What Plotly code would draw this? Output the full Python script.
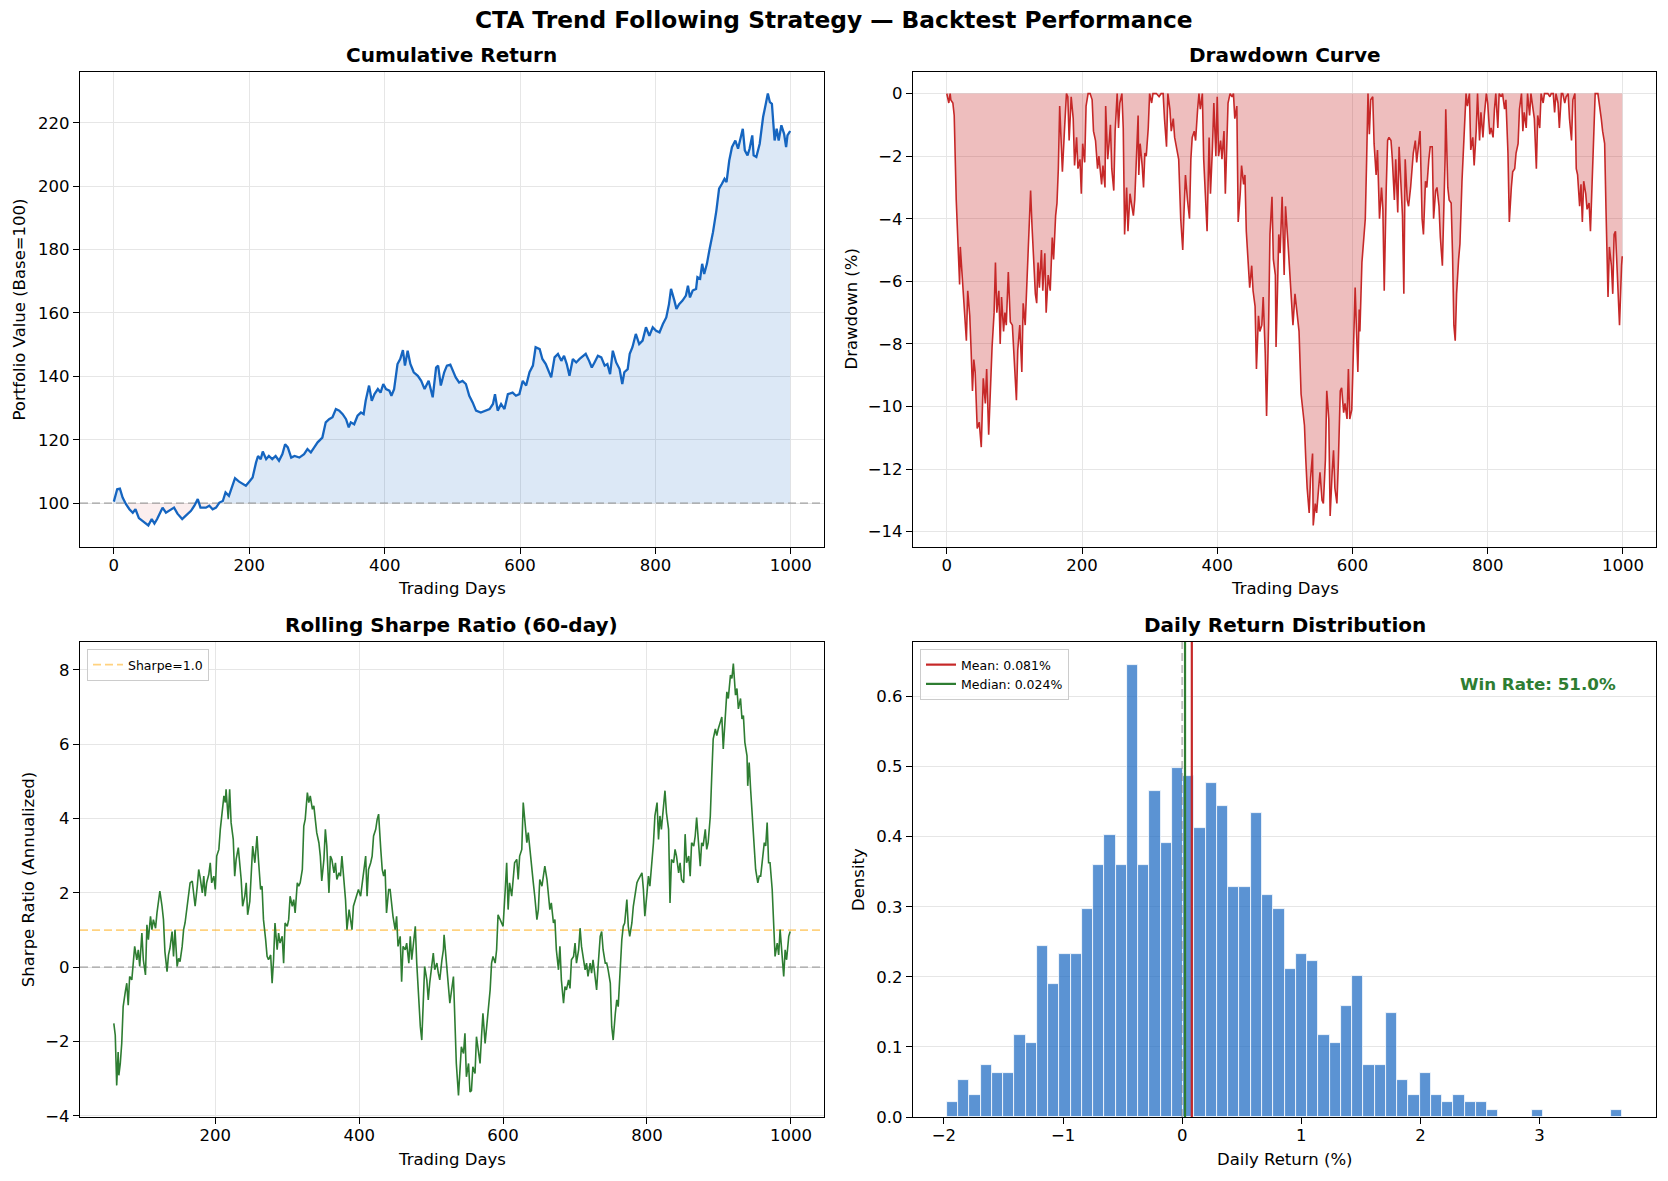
import numpy as np
import plotly.graph_objects as go

W, H = 1668, 1181

# ---------------- data ----------------
cum_days = [0, 5, 9, 13, 18, 23, 28, 32, 37, 42, 47, 51, 56, 60, 64, 72, 77, 82, 89, 94,
            101, 106, 114, 119, 124, 128, 136, 141, 146, 151, 156, 161, 165, 170, 175, 179,
            185, 190, 195, 200, 205, 210, 213, 217, 220, 225, 229, 234, 239, 244, 249, 253,
            257, 262, 267, 274, 281, 286, 291, 296, 301, 308, 313, 318, 323, 328, 333, 338,
            343, 347, 350, 355, 360, 365, 369, 372, 377, 381, 385, 390, 394, 398, 402, 407,
            410, 414, 419, 423, 427, 430, 434, 438, 443, 449, 454, 459, 465, 471, 476, 479,
            483, 488, 492, 497, 505, 510, 515, 520, 525, 530, 535, 542, 550, 555, 560, 563,
            567, 572, 577, 582, 589, 594, 599, 604, 609, 614, 619, 623, 629, 633, 638, 642,
            646, 651, 656, 661, 665, 669, 673, 678, 683, 688, 693, 697, 702, 706, 710, 715,
            720, 725, 729, 733, 737, 742, 747, 751, 754, 759, 762, 766, 771, 776, 781, 786,
            791, 796, 801, 806, 811, 816, 820, 823, 828, 831, 835, 840, 845, 848, 851, 855,
            860, 862, 866, 869, 872, 876, 880, 885, 890, 894, 898, 902, 905, 909, 913, 918,
            922, 925, 929, 932, 936, 939, 943, 945, 949, 954, 959, 963, 966, 969, 972, 976,
            979, 982, 986, 990, 993, 995, 999]
cum_value = [100.5, 104.4, 104.6, 101.8, 99.7, 98.1, 97.0, 98.1, 95.3, 94.4, 93.6, 93.0, 95.0,
             93.6, 95.0, 98.6, 97.0, 97.6, 98.6, 96.7, 95.0, 96.0, 97.6, 99.2, 101.3, 98.6,
             98.6, 99.2, 98.1, 98.6, 100.2, 100.7, 103.4, 102.3, 105.5, 107.9, 106.8, 106.2,
             105.5, 106.8, 108.1, 112.8, 114.9, 113.9, 116.3, 113.9, 114.9, 113.9, 114.9,
             113.4, 115.5, 118.6, 117.6, 114.4, 114.9, 114.4, 115.5, 117.1, 116.0, 117.6,
             119.2, 120.7, 125.5, 126.5, 127.1, 129.7, 129.2, 128.1, 126.5, 123.9, 125.5,
             124.9, 127.6, 128.6, 128.1, 132.3, 137.1, 132.3, 134.4, 136.0, 134.9, 137.6,
             136.0, 135.5, 133.9, 136.0, 143.9, 145.5, 148.3, 143.4, 148.1, 143.9, 141.3,
             140.2, 138.6, 136.0, 138.6, 133.4, 142.8, 143.4, 137.1, 141.3, 143.4, 143.7,
             139.7, 138.1, 138.6, 137.6, 133.9, 131.8, 129.2, 128.6, 129.2, 129.7, 131.3,
             134.4, 129.2, 131.3, 129.7, 134.4, 134.9, 133.9, 134.4, 138.6, 137.1, 141.3,
             143.4, 149.2, 148.6, 145.5, 143.9, 141.8, 139.7, 146.0, 147.1, 144.9, 146.5,
             143.9, 140.2, 145.5, 144.4, 145.5, 146.5, 147.1, 144.9, 142.8, 144.4, 146.5,
             146.0, 143.4, 143.9, 140.7, 148.1, 144.4, 142.3, 137.6, 141.3, 142.3, 147.1,
             149.2, 153.4, 150.2, 151.3, 155.5, 152.8, 155.5, 154.4, 153.9, 156.5, 158.6,
             162.8, 167.6, 163.9, 161.3, 162.8, 163.9, 165.5, 168.6, 164.9, 167.1, 167.6,
             171.3, 170.8, 175.5, 172.3, 175.5, 180.2, 185.5, 192.3, 199.2, 200.7, 202.3,
             201.3, 208.1, 212.3, 214.4, 211.8, 215.0, 218.1, 211.3, 209.7, 211.8, 216.0,
             209.7, 209.2, 213.4, 221.8, 226.0, 229.2, 226.5, 226.0, 214.4, 218.1, 214.4,
             219.2, 216.5, 212.3, 216.0, 217.4]

dd_days = [0, 3, 5, 6, 9, 11, 14, 16, 19, 20, 24, 26, 29, 31, 34, 36, 38, 40, 42, 45, 48, 51,
           54, 57, 59, 62, 65, 67, 70, 72, 74, 77, 79, 81, 84, 86, 88, 91, 94, 97, 100, 103,
           105, 108, 111, 113, 116, 119, 121, 124, 126, 128, 131, 133, 135, 137, 140, 142,
           145, 147, 150, 153, 156, 158, 161, 163, 165, 167, 169, 171, 174, 177, 179, 181,
           184, 187, 189, 192, 194, 197, 199, 201, 204, 206, 209, 212, 215, 217, 220, 223,
           225, 229, 231, 234, 235, 238, 240, 242, 244, 247, 249, 252, 254, 256, 259, 261,
           263, 266, 268, 271, 273, 276, 278, 280, 281, 283, 284, 286, 289, 291, 293, 295,
           298, 300, 303, 305, 310, 314, 317, 320, 322, 325, 327, 330, 332, 335, 337, 340,
           343, 346, 349, 351, 353, 356, 359, 361, 363, 366, 368, 371, 373, 375, 378, 380,
           383, 385, 388, 390, 393, 395, 398, 400, 402, 405, 407, 410, 412, 414, 416, 419,
           422, 424, 426, 429, 431, 434, 436, 439, 441, 443, 446, 448, 451, 453, 456, 458,
           461, 463, 466, 468, 471, 473, 476, 478, 481, 483, 486, 487, 489, 491, 493, 496,
           499, 501, 505, 509, 512, 515, 519, 521, 524, 526, 529, 531, 533, 536, 538, 541,
           542, 545, 547, 550, 552, 555, 557, 560, 562, 565, 567, 570, 572, 574, 577, 579,
           582, 584, 587, 589, 592, 594, 596, 599, 601, 604, 606, 608, 610, 611, 614, 616,
           619, 621, 623, 625, 627, 630, 632, 635, 637, 640, 643, 645, 647, 650, 652, 654,
           657, 659, 662, 664, 667, 669, 672, 674, 676, 678, 681, 683, 686, 688, 690, 693,
           695, 698, 700, 703, 705, 708, 710, 713, 715, 718, 720, 723, 725, 728, 730, 733,
           735, 737, 738, 741, 743, 746, 748, 750, 752, 754, 757, 759, 762, 764, 766, 768,
           770, 773, 775, 778, 780, 783, 785, 788, 790, 793, 795, 798, 800, 803, 805, 808,
           810, 812, 815, 817, 820, 822, 825, 827, 830, 832, 835, 837, 840, 842, 845, 847,
           850, 852, 854, 857, 859, 862, 864, 867, 869, 872, 874, 877, 879, 882, 884, 889,
           892, 894, 897, 899, 901, 904, 906, 909, 911, 914, 916, 919, 921, 924, 926, 929,
           931, 933, 936, 938, 940, 942, 945, 947, 950, 952, 954, 957, 959, 963, 966, 968,
           970, 973, 975, 978, 980, 983, 985, 987, 989, 991, 993, 995, 998, 999]
dd_pct = [0, -0.3, 0, -0.2, -0.3, -0.7, -3.4, -4.6, -6.1, -4.9, -6.3, -7.1, -7.9, -6.3, -7.1,
          -8.2, -9.5, -8.5, -8.9, -10.7, -10.5, -11.3, -9.1, -9.9, -8.8, -10.9, -9.1, -8.1,
          -7.0, -5.4, -7.0, -6.3, -8.0, -6.5, -7.6, -7.0, -7.4, -5.7, -7.3, -7.4, -8.6, -9.8,
          -8.2, -7.4, -8.9, -6.7, -7.4, -5.7, -4.5, -3.1, -4.2, -5.3, -6.4, -6.7, -5.4, -6.2,
          -5.0, -6.3, -5.1, -7.0, -5.8, -6.3, -4.6, -5.3, -3.9, -3.5, -2.4, -0.4, -1.6, -2.5,
          -1.2, 0, -0.1, -1.5, -0.1, -0.8, -2.3, -1.4, -2.4, -2.1, -3.2, -1.6, -2.2, -0.4, 0,
          0, -0.2, -1.2, -1.5, -2.4, -2.0, -2.9, -2.3, -3.0, -0.4, -2.1, -1.6, -1.0, -2.4,
          -3.1, -1.2, 0, -1.1, -0.3, 0, -1.1, -4.5, -3.0, -4.4, -3.2, -3.5, -3.9, -3.4, -2.4,
          -1.9, -0.7, -2.6, -1.6, -2.3, -3.0, -1.9, -2.0, -1.1, 0, -0.3, 0, 0, -0.1, 0, 0,
          -0.8, -1.7, 0, -0.5, -1.2, -0.8, -1.4, -1.7, -2.1, -4.0, -5.0, -3.7, -2.6, -3.4,
          -4.0, -2.1, -1.4, -1.2, -1.5, -0.5, 0, -0.5, 0, -2.1, -3.7, -4.4, -1.4, -3.2, -1.7,
          -0.3, -2.0, -0.1, -2.0, -1.5, -2.1, -1.2, -3.2, -1.3, -0.3, 0, -0.1, 0, -0.8, -0.4,
          -4.1, -3.2, -2.3, -2.9, -2.6, -4.4, -5.3, -6.2, -5.5, -6.3, -6.8, -8.8, -7.1, -7.6,
          -7.4, -6.5, -8.3, -10.3, -7.4, -4.5, -3.3, -5.3, -5.8, -8.1, -6.4, -4.5, -5.1, -3.3,
          -5.8, -3.6, -4.9, -6.2, -7.4, -6.4, -7.3, -7.6, -9.6, -10.0, -10.6, -11.7, -12.6,
          -13.4, -12.3, -11.5, -13.8, -13.1, -13.4, -12.6, -12.1, -13.0, -13.1, -11.7, -9.5,
          -10.4, -13.5, -12.1, -11.4, -12.6, -13.1, -11.9, -9.5, -9.4, -10.2, -9.9, -10.4,
          -8.8, -10.4, -10.1, -8.5, -6.2, -7.6, -8.9, -6.9, -7.6, -5.4, -4.7, -4.0, -2.1, 0,
          -1.3, -0.2, -0.1, -1.6, -2.6, -1.8, -4.0, -3.0, -3.7, -6.3, -3.0, -1.5, -1.4, -1.5,
          -2.1, -3.4, -2.1, -3.8, -1.7, -3.2, -3.9, -6.4, -2.1, -3.4, -3.6, -3.0, -2.5, -1.9,
          -1.5, -2.2, -1.6, -1.2, -4.0, -4.5, -2.8, -3.0, -2.1, -1.7, -1.7, -4.0, -3.1, -3.0,
          -3.6, -4.6, -5.5, -4.0, -2.1, -0.5, -3.0, -3.4, -3.5, -5.1, -7.4, -7.9, -6.4, -5.3,
          -4.8, -2.8, -1.9, -1.1, 0, -0.4, 0, -1.8, -1.4, -2.3, -1.2, 0, -1.5, -0.6, -1.4,
          -0.7, 0, -0.3, -1.3, -1.1, -1.4, -0.5, 0, -1.1, 0, -0.1, 0, -0.5, -0.2, -1.9, -4.1,
          -3.0, -2.5, -2.4, -1.9, -1.6, -0.5, 0, -1.2, -0.6, -1.1, 0, -0.7, 0, -0.4, -0.8,
          -2.4, -0.7, -1.1, 0, -0.3, 0, 0, -0.1, 0, 0, -0.6, 0, -0.3, -1.1, 0, 0, -0.3, -0.1,
          0, -0.8, -1.5, -0.2, 0, -2.4, -2.6, -3.6, -2.9, -4.1, -2.8, -3.2, -3.7, -3.5, -4.4,
          -3.0, -1.5, 0, 0, -0.4, -0.8, -1.2, -1.6, -3.7, -6.5, -4.9, -5.5, -6.4, -4.5, -4.4,
          -5.5, -6.6, -7.4, -5.5, -5.2]

sharpe_days = [59, 61, 63, 65, 66, 68, 70, 72, 75, 77, 79, 81, 84, 86, 88, 91, 93, 95, 98,
               100, 103, 105, 107, 110, 112, 114, 117, 119, 121, 123, 126, 128, 130, 133, 135,
               137, 140, 142, 144, 147, 149, 151, 154, 156, 158, 161, 163, 165, 168, 170, 172,
               175, 177, 179, 182, 184, 186, 188, 191, 193, 195, 198, 200, 202, 205, 207, 209,
               212, 214, 215, 218, 220, 222, 225, 227, 229, 232, 234, 236, 238, 241, 243, 245,
               248, 250, 252, 255, 257, 258, 260, 263, 265, 267, 270, 272, 274, 277, 279, 281,
               283, 286, 288, 290, 293, 295, 297, 300, 302, 304, 307, 309, 311, 314, 316, 318,
               321, 323, 325, 328, 330, 332, 335, 337, 339, 341, 344, 346, 348, 351, 353, 355,
               358, 360, 362, 365, 367, 369, 372, 374, 376, 379, 381, 383, 386, 388, 390, 392,
               395, 397, 399, 402, 404, 406, 409, 411, 413, 416, 418, 420, 423, 425, 427, 430,
               432, 434, 436, 438, 441, 443, 445, 447, 450, 452, 454, 457, 459, 461, 464, 466,
               469, 471, 473, 475, 478, 480, 482, 485, 487, 489, 491, 494, 496, 498, 501, 503,
               505, 508, 510, 512, 515, 517, 518, 521, 524, 526, 531, 533, 535, 538, 540, 542,
               545, 547, 549, 552, 554, 556, 558, 561, 563, 565, 568, 570, 572, 575, 577, 579,
               582, 584, 586, 589, 591, 593, 596, 598, 600, 603, 605, 607, 609, 612, 614, 616,
               619, 621, 623, 626, 628, 630, 633, 635, 637, 640, 642, 644, 647, 649, 651, 654,
               656, 658, 661, 663, 665, 667, 670, 672, 674, 677, 679, 681, 684, 686, 688, 691,
               693, 695, 698, 700, 702, 705, 707, 709, 712, 714, 716, 718, 721, 723, 725, 728,
               730, 732, 735, 737, 739, 742, 744, 746, 749, 751, 753, 756, 758, 760, 763, 765,
               767, 769, 772, 774, 776, 779, 781, 783, 786, 788, 790, 793, 795, 797, 800, 802,
               804, 807, 809, 811, 814, 816, 818, 820, 823, 825, 827, 830, 832, 834, 837, 839,
               841, 844, 846, 848, 851, 853, 855, 858, 860, 862, 865, 867, 869, 872, 874, 876,
               878, 881, 883, 885, 888, 890, 892, 895, 897, 899, 902, 904, 906, 909, 911, 913,
               916, 918, 920, 923, 925, 927, 930, 932, 934, 936, 939, 940, 942, 944, 947, 949,
               951, 954, 956, 958, 961, 963, 965, 967, 969, 971, 974, 976, 978, 981, 983, 985,
               987, 990, 992, 994, 997, 999]
sharpe_val = [-1.51, -1.83, -3.18, -2.28, -2.91, -2.59, -2.05, -1.06, -0.66, -0.43, -1.02,
              -0.25, -0.34, 0.11, 0.56, 0.20, 0.47, 0.02, 0.92, 0.20, -0.21, 1.14, 0.74, 1.37,
              1.01, 1.28, 1.05, 1.46, 1.82, 2.05, 1.64, 1.28, 0.42, -0.12, 0.33, 0.51, 0.96,
              0.29, 1.01, 0.02, 0.24, 0.15, 0.56, 1.01, 1.19, 1.73, 2.00, 2.27, 2.32, 2.00,
              1.64, 2.18, 2.63, 2.41, 2.00, 2.45, 1.91, 2.27, 2.50, 2.81, 2.27, 2.45, 2.09,
              2.99, 3.17, 3.71, 4.16, 4.61, 4.43, 4.79, 3.98, 4.79, 3.89, 3.44, 2.45, 2.90,
              3.22, 2.81, 2.36, 1.64, 1.91, 2.27, 1.41, 1.77, 2.63, 3.26, 2.81, 3.17, 3.53,
              2.90, 2.09, 2.18, 1.28, 0.74, 0.29, 0.20, 0.33, -0.43, 0.20, 1.19, 0.47, 0.92,
              0.65, 0.83, 0.11, 1.19, 1.10, 1.28, 1.91, 1.64, 1.82, 1.46, 2.27, 2.18, 2.27,
              2.63, 3.80, 3.98, 4.70, 4.43, 4.61, 4.25, 4.34, 3.98, 3.62, 3.35, 2.99, 2.32,
              2.90, 3.71, 3.26, 2.00, 2.99, 2.90, 2.54, 2.81, 2.36, 2.54, 2.45, 2.99, 2.27,
              1.82, 1.01, 1.55, 1.28, 1.01, 1.64, 1.82, 1.91, 2.09, 1.91, 2.27, 2.45, 2.99,
              1.91, 2.63, 2.81, 2.99, 3.53, 3.71, 3.98, 4.12, 3.17, 2.63, 2.45, 2.63, 1.46,
              2.09, 2.09, 1.64, 1.37, 1.01, 1.37, 0.56, 0.83, -0.39, 0.56, 0.47, 0.65, 0.11,
              0.83, 0.20, 0.56, 1.10, 0.11, -0.61, -1.60, -1.96, -0.88, 0.02, -0.34, -0.88,
              -0.43, 0.11, 0.38, -0.07, 0.11, -0.16, -0.34, 0.20, 0.47, 0.87, 0.11, -0.43,
              -0.97, -0.25, -1.51, -2.59, -3.45, -2.86, -2.14, -2.32, -1.78, -2.95, -2.59,
              -3.36, -3.32, -2.68, -2.86, -1.87, -2.23, -2.59, -1.87, -1.24, -2.05, -1.69,
              -1.33, -0.61, 0.11, 0.29, 0.11, 0.47, 1.41, 1.28, 1.19, 1.10, 2.09, 2.81, 1.55,
              2.27, 1.91, 2.27, 2.81, 2.90, 2.36, 2.99, 3.17, 4.43, 3.89, 3.35, 3.62, 3.17,
              2.63, 2.27, 1.91, 1.28, 1.55, 2.36, 2.18, 2.45, 2.72, 2.36, 1.82, 1.55, 1.73,
              1.19, 1.28, 0.47, -0.07, 0.56, -0.34, -0.97, -0.52, -0.61, -0.34, -0.57, 0.20,
              0.29, 0.65, 0.11, 0.47, 1.05, 0.56, 0.20, -0.07, 0.11, -0.25, 0.11, -0.16, 0.20,
              -0.34, -0.61, 0.02, 0.83, 0.96, 0.47, 0.11, 0.11, -0.07, -0.43, -1.60, -1.96,
              -1.24, -0.88, -1.06, 0.11, 0.74, 1.10, 1.19, 1.82, 1.10, 0.83, 1.19, 1.64, 1.91,
              2.27, 2.36, 2.45, 2.54, 2.09, 1.37, 2.00, 2.45, 2.18, 2.81, 3.35, 4.07, 4.43,
              3.44, 4.07, 3.71, 4.25, 4.75, 4.16, 3.71, 1.73, 2.90, 2.81, 3.17, 2.99, 2.54,
              2.81, 2.36, 2.27, 3.58, 2.81, 2.99, 2.45, 3.35, 3.26, 3.53, 4.03, 3.35, 2.72,
              3.35, 3.26, 3.71, 3.17, 3.35, 4.07, 5.15, 6.14, 6.41, 6.23, 6.41, 6.59, 6.73,
              5.87, 6.86, 7.41, 7.23, 7.86, 7.77, 8.17, 7.32, 7.50, 6.95, 7.23, 6.68, 6.77,
              6.05, 5.69, 4.88, 5.51, 4.79, 3.89, 3.26, 2.63, 2.27, 2.45, 2.45, 2.99, 3.35,
              3.26, 3.89, 2.81, 2.81, 2.09, 1.19, 0.29, 0.65, 0.33, 1.01, 0.47, -0.25, 0.47,
              0.20, 0.83, 0.96]

# daily-return histogram: counts per bin (60 equal bins between HIST_LO and HIST_HI, in %)
hist_counts = [2, 5, 3, 7, 6, 6, 11, 10, 23, 18, 22, 22, 28, 34, 38, 34, 61, 34, 44, 37,
               47, 46, 39, 45, 42, 31, 31, 41, 30, 28, 20, 22, 21, 11, 10, 15, 19, 7, 7, 14,
               5, 3, 6, 3, 2, 3, 2, 2, 1, 0, 0, 0, 1, 0, 0, 0, 0, 0, 0, 1]
HIST_LO, HIST_HI = -1.976, 3.694
MEAN_RET = 0.081
MEDIAN_RET = 0.024
WIN_RATE = 51.0
BASE_VALUE = 100
SHARPE_REF = 1.0

# ---------------- styling ----------------
BLUE = '#1565C0'
RED = '#C62828'
GREEN = '#2E7D32'
FONT = 'DejaVu Sans'
TICK_SIZE = 16.5


def px(x):
    return x / W


def py(y):
    return 1 - y / H


def mpl_range(vals, m=0.05):
    lo, hi = float(min(vals)), float(max(vals))
    s = hi - lo
    return [lo - m * s, hi + m * s]


fig = go.Figure()

# ---------- panel 1: cumulative return ----------
cd = np.array(cum_days)
cv = np.array(cum_value, dtype=float)
base = np.full(len(cd), float(BASE_VALUE))
xr1 = mpl_range(cum_days)
yr1 = mpl_range(list(cum_value) + [BASE_VALUE])
fig.add_trace(go.Scatter(x=cd, y=base, mode='lines', line=dict(width=0), showlegend=False,
                         hoverinfo='skip', xaxis='x', yaxis='y'))
fig.add_trace(go.Scatter(x=cd, y=np.maximum(cv, BASE_VALUE), mode='lines', line=dict(width=0),
                         fill='tonexty', fillcolor='rgba(21,101,192,0.15)', showlegend=False,
                         hoverinfo='skip', xaxis='x', yaxis='y'))
fig.add_trace(go.Scatter(x=cd, y=base, mode='lines', line=dict(width=0), showlegend=False,
                         hoverinfo='skip', xaxis='x', yaxis='y'))
fig.add_trace(go.Scatter(x=cd, y=np.minimum(cv, BASE_VALUE), mode='lines', line=dict(width=0),
                         fill='tonexty', fillcolor='rgba(198,40,40,0.08)', showlegend=False,
                         hoverinfo='skip', xaxis='x', yaxis='y'))
fig.add_trace(go.Scatter(x=xr1, y=[BASE_VALUE, BASE_VALUE], mode='lines',
                         line=dict(color='rgba(128,128,128,0.5)', width=1.8, dash='8px,4px'),
                         showlegend=False, xaxis='x', yaxis='y'))
fig.add_trace(go.Scatter(x=cd, y=cv, mode='lines', line=dict(color=BLUE, width=2.3),
                         showlegend=False, xaxis='x', yaxis='y'))

# ---------- panel 2: drawdown ----------
xr2 = mpl_range(dd_days)
yr2 = mpl_range(list(dd_pct) + [0])
fig.add_trace(go.Scatter(x=dd_days, y=dd_pct, mode='lines', line=dict(color=RED, width=1.6),
                         fill='tozeroy', fillcolor='rgba(198,40,40,0.3)', showlegend=False,
                         xaxis='x2', yaxis='y2'))

# ---------- panel 3: rolling sharpe ----------
xr3 = mpl_range(sharpe_days)
yr3 = mpl_range(sharpe_val)
fig.add_trace(go.Scatter(x=xr3, y=[0, 0], mode='lines',
                         line=dict(color='rgba(128,128,128,0.5)', width=1.8, dash='8px,4px'),
                         showlegend=False, xaxis='x3', yaxis='y3'))
fig.add_trace(go.Scatter(x=xr3, y=[SHARPE_REF, SHARPE_REF], mode='lines', name='Sharpe=1.0',
                         line=dict(color='rgba(255,165,0,0.5)', width=1.8, dash='8px,4px'),
                         showlegend=True, legend='legend', xaxis='x3', yaxis='y3'))
fig.add_trace(go.Scatter(x=sharpe_days, y=sharpe_val, mode='lines',
                         line=dict(color=GREEN, width=1.6), showlegend=False,
                         xaxis='x3', yaxis='y3'))

# ---------- panel 4: histogram ----------
counts = np.array(hist_counts, dtype=float)
edges = np.linspace(HIST_LO, HIST_HI, len(hist_counts) + 1)
bw = edges[1] - edges[0]
centers = (edges[:-1] + edges[1:]) / 2
density = counts / (counts.sum() * bw)
xr4 = mpl_range([HIST_LO, HIST_HI])
yr4 = [0, float(density.max()) * 1.05]
fig.add_trace(go.Bar(x=centers, y=density, width=bw,
                     marker=dict(color='rgba(21,101,192,0.7)', line=dict(color='white', width=0.8)),
                     showlegend=False, xaxis='x4', yaxis='y4'))
fig.add_trace(go.Scatter(x=[0, 0], y=yr4, mode='lines',
                         line=dict(color='rgba(128,128,128,0.5)', width=1.8, dash='8px,4px'),
                         showlegend=False, xaxis='x4', yaxis='y4'))
fig.add_trace(go.Scatter(x=[MEAN_RET, MEAN_RET], y=yr4, mode='lines',
                         name=f'Mean: {MEAN_RET:.3f}%', line=dict(color=RED, width=2.2),
                         legend='legend2', xaxis='x4', yaxis='y4'))
fig.add_trace(go.Scatter(x=[MEDIAN_RET, MEDIAN_RET], y=yr4, mode='lines',
                         name=f'Median: {MEDIAN_RET:.3f}%', line=dict(color=GREEN, width=2.2),
                         legend='legend2', xaxis='x4', yaxis='y4'))

# ---------------- layout ----------------
axis_common = dict(showline=True, linecolor='black', linewidth=1.3, mirror=True,
                   ticks='outside', ticklen=6, tickwidth=1.3, tickcolor='black',
                   tickfont=dict(family=FONT, size=TICK_SIZE, color='black'),
                   showgrid=True, gridcolor='#e6e6e6', gridwidth=1, zeroline=False,
                   automargin=False)
xaxis_extra = dict(ticklabelstandoff=-3)

xd1 = [px(80), px(824)]
xd2 = [px(913), px(1656)]
yd_top = [py(547), py(72)]
yd_bot = [py(1117), py(642)]

fig.update_layout(
    width=W, height=H, margin=dict(l=0, r=0, t=0, b=0, pad=0, autoexpand=False),
    paper_bgcolor='white', plot_bgcolor='white',
    font=dict(family=FONT, color='black'),
    xaxis=dict(axis_common, **xaxis_extra, domain=xd1, anchor='y', range=xr1,
               tickvals=[0, 200, 400, 600, 800, 1000]),
    yaxis=dict(axis_common, domain=yd_top, anchor='x', range=yr1, dtick=20),
    xaxis2=dict(axis_common, **xaxis_extra, domain=xd2, anchor='y2', range=xr2,
                tickvals=[0, 200, 400, 600, 800, 1000]),
    yaxis2=dict(axis_common, domain=yd_top, anchor='x2', range=yr2, dtick=2),
    xaxis3=dict(axis_common, **xaxis_extra, domain=xd1, anchor='y3', range=xr3,
                tickvals=[200, 400, 600, 800, 1000]),
    yaxis3=dict(axis_common, domain=yd_bot, anchor='x3', range=yr3, dtick=2),
    xaxis4=dict(axis_common, **xaxis_extra, domain=xd2, anchor='y4', range=xr4, dtick=1,
                showgrid=False),
    yaxis4=dict(axis_common, domain=yd_bot, anchor='x4', range=yr4, dtick=0.1, tickformat='.1f'),
    bargap=0,
    legend=dict(x=px(87), y=py(649), xanchor='left', yanchor='top',
                bgcolor='rgba(255,255,255,0.8)', bordercolor='#cccccc', borderwidth=1,
                font=dict(family=FONT, size=12.5, color='black'), itemwidth=30,
                tracegroupgap=0),
    legend2=dict(x=px(920), y=py(649), xanchor='left', yanchor='top',
                 bgcolor='rgba(255,255,255,0.8)', bordercolor='#cccccc', borderwidth=1,
                 font=dict(family=FONT, size=12.5, color='black'), itemwidth=30,
                 tracegroupgap=0),
)

ann = []


def add_text(text, x, y, size, bold=False, color='black', angle=0, xanchor='center'):
    t = f'<b>{text}</b>' if bold else text
    ann.append(dict(text=t, x=px(x), y=py(y), xref='paper', yref='paper', showarrow=False,
                    xanchor=xanchor, yanchor='middle', textangle=angle,
                    font=dict(family=FONT, size=size, color=color)))


add_text('CTA Trend Following Strategy — Backtest Performance', 834, 20, 23.3, bold=True)
add_text('Cumulative Return', 452, 55, 20, bold=True)
add_text('Drawdown Curve', 1284.5, 55, 20, bold=True)
add_text('Rolling Sharpe Ratio (60-day)', 452, 625, 20, bold=True)
add_text('Daily Return Distribution', 1284.5, 625, 20, bold=True)
add_text('Trading Days', 452, 588, 16.5)
add_text('Trading Days', 1284.5, 588, 16.5)
add_text('Trading Days', 452, 1159, 16.5)
add_text('Daily Return (%)', 1284.5, 1159, 16.5)
add_text('Portfolio Value (Base=100)', 19, 309.5, 16.5, angle=-90)
add_text('Drawdown (%)', 851, 309.5, 16.5, angle=-90)
add_text('Sharpe Ratio (Annualized)', 28.7, 879.5, 16.5, angle=-90)
add_text('Density', 858.5, 879.5, 16.5, angle=-90)
add_text(f'Win Rate: {WIN_RATE:.1f}%', 1618, 684, 16.7, bold=True, color=GREEN, xanchor='right')

fig.update_layout(annotations=ann)

fig.write_html('out.html')
